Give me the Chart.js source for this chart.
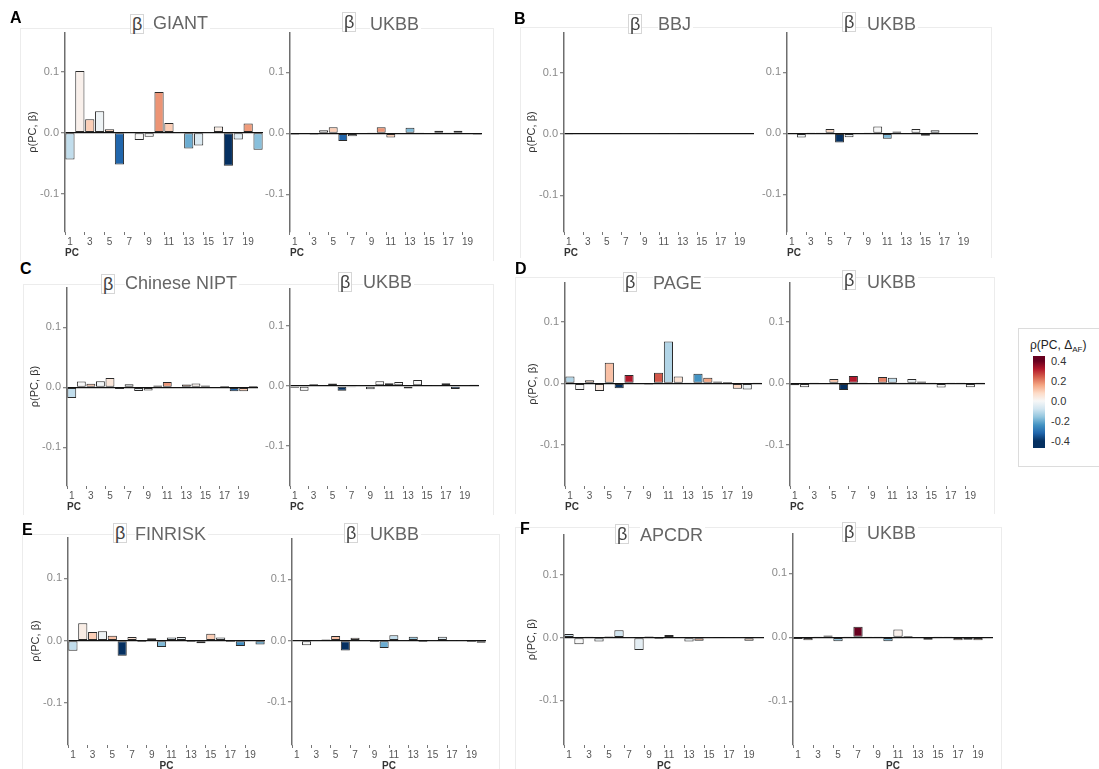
<!DOCTYPE html>
<html>
<head>
<meta charset="utf-8">
<script src="https://cdn.jsdelivr.net/npm/chart.js@4.4.0/dist/chart.umd.min.js"></script>
<style>
  body { margin: 0; width: 1099px; height: 769px; background: #fff; position: relative; overflow: hidden; font-family: "Liberation Sans", Arial, sans-serif; }
  .frame { position: absolute; border: 1px solid #ececec; border-bottom: none; }
  .letter { position: absolute; font-size: 16px; line-height: 16px; font-weight: bold; color: #000; }
  .beta { position: absolute; font-size: 18px; line-height: 18px; color: #444; border: 1px solid #d6d6d6; background: #fff; padding: 0 1px; }
  .word { position: absolute; font-size: 18px; line-height: 18px; color: #666; background: #fff; padding-right: 2px; }
  canvas { position: absolute; }
  #legend { position: absolute; left: 1018px; top: 328px; width: 80px; height: 137px; border: 1px solid #dcdcdc; border-right: none; }
  .lgTitle { position: absolute; left: 1030px; top: 338px; font-size: 12px; color: #222; white-space: nowrap; }
  .lgTitle sub { font-size: 8px; }
  .lgLab { position: absolute; left: 1051px; font-size: 11px; line-height: 12px; color: #333; }
  #cbar { position: absolute; left: 1033px; top: 356px; width: 12px; height: 92px; }
</style>
</head>
<body>
<div class="frame" style="left:20px;top:28px;width:472px;height:232px"></div>
<div class="frame" style="left:520px;top:27px;width:470px;height:230px"></div>
<div class="frame" style="left:23px;top:284px;width:469px;height:230px"></div>
<div class="frame" style="left:515px;top:277px;width:478px;height:236px"></div>
<div class="frame" style="left:22px;top:534px;width:476px;height:240px"></div>
<div class="frame" style="left:515px;top:527px;width:485px;height:245px"></div>

<div id="legend"></div>
<div class="lgTitle">ρ(PC, Δ<sub>AF</sub>)</div>
<div id="cbar"></div>

<script>
// x categories and tick labels
const pcLabels = ['1','2','3','4','5','6','7','8','9','10','11','12','13','14','15','16','17','18','19','20'];
const xTickShown = ['1','3','5','7','9','11','13','15','17','19'];
const yTicks = [-0.1, 0.0, 0.1];
const legendTicks = [0.4, 0.2, 0.0, -0.2, -0.4];

// rho(PC, beta) per PC, and rho(PC, dAF) used for fill
const betaGIANT = [-0.044, 0.101, 0.022, 0.035, 0.0055, -0.052, -0.001, -0.012, -0.0065, 0.0667, 0.016, 0.0005, -0.026, -0.021, 0.0005, 0.010, -0.054, -0.011, 0.015, -0.028];
const dafGIANT  = [-0.1, 0.02, 0.1, -0.02, 0.1, -0.32, 0, 0, 0, 0.18, 0.1, 0, -0.2, -0.06, 0, 0.03, -0.4, -0.05, 0.17, -0.17];

const betaUKBB_A = [-0.002, -0.001, -0.002, 0.005, 0.010, -0.0125, -0.005, -0.001, 0.0005, 0.010, -0.007, -0.001, 0.009, 0.0005, 0.001, 0.004, 0.0005, 0.004, -0.001, -0.002];
const dafUKBB_A  = [-0.1, 0, -0.02, 0, 0.1, -0.32, -0.03, 0, 0, 0.18, 0.1, 0, -0.18, 0, 0, 0.05, 0, -0.06, 0, -0.15];

const betaBBJ = [-0.001, 0, 0, 0, 0, 0, 0.0005, 0, 0, 0.0005, 0, 0.0005, 0, 0.0005, 0, 0, 0, 0.001, 0, 0];
const dafBBJ  = [0, 0, 0, 0, 0, 0, 0, 0, 0, 0, 0, 0, 0, 0, 0, 0, 0, 0, 0, 0];

const betaUKBB_B = [-0.001, -0.007, 0.0005, 0.0005, 0.007, -0.015, -0.0065, -0.001, 0.0005, 0.011, -0.009, 0.003, 0.001, 0.007, -0.004, 0.005, 0.001, 0.001, 0.001, 0];
const dafUKBB_B  = [0, -0.02, 0, 0, 0.08, -0.4, -0.03, 0, 0, 0, -0.18, -0.05, 0, 0, 0.06, -0.04, 0, 0, 0, 0];

const betaNIPT = [-0.018, 0.0095, 0.006, 0.010, 0.0155, -0.003, 0.005, -0.006, -0.0055, 0.003, 0.009, 0.001, 0.0045, 0.0065, 0.003, 0.001, 0.002, -0.0065, -0.0065, 0.002];
const dafNIPT  = [-0.1, 0, 0.12, -0.01, 0.05, -0.4, -0.03, -0.03, 0, -0.05, 0.18, 0, 0.12, 0.02, -0.1, 0, -0.1, -0.32, 0.1, -0.1];

const betaUKBB_C = [-0.003, -0.008, 0.003, 0.001, 0.004, -0.008, -0.002, 0.0005, -0.0055, 0.008, 0.0045, 0.0065, -0.004, 0.010, 0.001, 0.0005, 0.0045, -0.005, 0.0005, 0.002];
const dafUKBB_C  = [-0.1, 0, 0.05, 0, -0.03, -0.4, -0.1, 0, -0.03, 0, 0.18, 0, 0.1, 0, 0, 0, -0.12, -0.32, 0, -0.1];

const betaPAGE = [0.011, -0.011, 0.005, -0.0125, 0.0335, -0.008, 0.0135, -0.001, -0.002, 0.017, 0.068, 0.011, 0.0005, 0.0157, 0.009, 0.003, 0.002, -0.0087, -0.010, 0.0005];
const dafPAGE  = [-0.12, 0, 0.1, 0.04, 0.12, -0.4, 0.32, 0, 0, 0.25, -0.12, 0.06, 0, -0.24, 0.16, -0.05, 0, 0.08, -0.02, 0];

const betaUKBB_D = [-0.003, -0.0065, 0.0005, -0.001, 0.007, -0.011, 0.012, 0.0005, -0.001, 0.0103, 0.009, 0.0005, 0.007, 0.003, 0.0005, -0.007, 0.0005, 0.0005, -0.0065, 0.0005];
const dafUKBB_D  = [-0.12, 0, 0, 0, 0.12, -0.4, 0.32, 0, 0, 0.2, -0.1, 0, -0.03, -0.2, 0, 0, 0, 0, 0, 0];

const betaFINRISK = [-0.016, 0.028, 0.014, 0.015, 0.008, -0.024, 0.006, -0.002, 0.004, -0.010, 0.005, 0.006, -0.002, -0.004, 0.011, 0.005, -0.002, -0.0085, 0.001, -0.006];
const dafFINRISK  = [-0.1, 0.03, 0.1, -0.02, 0.12, -0.4, 0.06, 0, -0.04, -0.18, -0.08, -0.03, 0, 0, 0.1, -0.04, 0, -0.25, 0, -0.22];

const betaUKBB_E = [0.0005, -0.0075, 0.0005, 0.002, 0.0075, -0.016, 0.005, 0.0005, -0.002, -0.012, 0.0087, 0.0005, 0.0065, -0.002, 0.0005, 0.0065, 0.0005, 0.0005, -0.002, -0.0035];
const dafUKBB_E  = [0, 0, 0, 0.05, 0.12, -0.4, 0.05, 0, 0, -0.2, -0.1, 0, -0.15, 0, 0, -0.06, 0, 0, 0, -0.15];

const betaAPCDR = [0.006, -0.0105, 0.0015, -0.006, 0.002, 0.0117, 0.0005, -0.0197, 0.002, -0.002, 0.0043, -0.001, -0.006, -0.005, 0.0005, 0.001, 0.0005, 0.0005, -0.005, 0.0005];
const dafAPCDR  = [-0.08, 0, -0.1, -0.03, 0, -0.08, 0, -0.04, -0.03, 0, -0.03, 0, -0.03, 0.15, 0, 0, 0, 0, 0.08, 0];

const betaUKBB_F = [-0.0025, -0.0045, 0.0005, 0.003, -0.006, 0.0005, 0.0165, 0.0005, 0.0005, -0.006, 0.012, 0.002, 0.001, -0.004, 0.0005, 0.0005, -0.0045, -0.004, -0.0045, -0.001];
const dafUKBB_F  = [-0.12, 0.04, 0, 0, -0.15, 0, 0.4, 0, 0, -0.18, 0.02, 0, 0, 0.15, 0, 0, 0.08, -0.12, 0.08, 0];

// RdBu palette, -0.4 .. 0.4
const rdbu = ['#053061','#2166ac','#4393c3','#92c5de','#d1e5f0','#f7f7f7','#fddbc7','#f4a582','#d6604d','#b2182b','#67001f'];

function hex2rgb(h) { return [1,3,5].map(i => parseInt(h.substr(i, 2), 16)); }
function fillFor(v) {
  const t = Math.max(0, Math.min(1, (v + 0.4) / 0.8)) * 10;
  const i = Math.min(9, Math.floor(t)), f = t - i;
  const a = hex2rgb(rdbu[i]), b = hex2rgb(rdbu[i + 1]);
  return 'rgb(' + a.map((c, k) => Math.round(c + (b[k] - c) * f)).join(',') + ')';
}

// panel layout (pixels)
const panels = [
  { beta: betaGIANT,   daf: dafGIANT,   axisX: 65,  right: 263, top: 32,  bottom: 232, zero: 132.7, unit: 61,   yTitle: true,  pcAlign: 'start' },
  { beta: betaUKBB_A,  daf: dafUKBB_A,  axisX: 290, right: 482, top: 32,  bottom: 232, zero: 133.3, unit: 61,   yTitle: false, pcAlign: 'start' },
  { beta: betaBBJ,     daf: dafBBJ,     axisX: 564, right: 754, top: 32,  bottom: 232, zero: 134,   unit: 61.3, yTitle: true,  pcAlign: 'start' },
  { beta: betaUKBB_B,  daf: dafUKBB_B,  axisX: 787, right: 978, top: 32,  bottom: 232, zero: 133.3, unit: 61,   yTitle: false, pcAlign: 'start' },
  { beta: betaNIPT,    daf: dafNIPT,    axisX: 67,  right: 258, top: 287, bottom: 486, zero: 387.3, unit: 60,   yTitle: true,  pcAlign: 'start' },
  { beta: betaUKBB_C,  daf: dafUKBB_C,  axisX: 290, right: 479, top: 288, bottom: 486, zero: 386,   unit: 60,   yTitle: false, pcAlign: 'start' },
  { beta: betaPAGE,    daf: dafPAGE,    axisX: 565, right: 762, top: 282, bottom: 486, zero: 383.3, unit: 61.6, yTitle: true,  pcAlign: 'start' },
  { beta: betaUKBB_D,  daf: dafUKBB_D,  axisX: 790, right: 985, top: 282, bottom: 486, zero: 383.3, unit: 61.6, yTitle: false, pcAlign: 'start' },
  { beta: betaFINRISK, daf: dafFINRISK, axisX: 68,  right: 265, top: 537, bottom: 745, zero: 640.7, unit: 62.4, yTitle: true,  pcAlign: 'center' },
  { beta: betaUKBB_E,  daf: dafUKBB_E,  axisX: 292, right: 486, top: 538, bottom: 745, zero: 640.7, unit: 61.3, yTitle: false, pcAlign: 'center' },
  { beta: betaAPCDR,   daf: dafAPCDR,   axisX: 564, right: 764, top: 534, bottom: 745, zero: 637.7, unit: 62.7, yTitle: true,  pcAlign: 'center' },
  { beta: betaUKBB_F,  daf: dafUKBB_F,  axisX: 793, right: 993, top: 533, bottom: 745, zero: 637.3, unit: 64,   yTitle: false, pcAlign: 'center' }
];

const titles = [
  ['GIANT', 130, 153, 16, 14], ['UKBB', 342, 370, 17, 12], ['BBJ', 628, 658, 17, 14], ['UKBB', 842, 867, 17, 12],
  ['Chinese NIPT', 101, 125, 276, 274], ['UKBB', 338, 363, 275, 272], ['PAGE', 623, 653, 276, 272], ['UKBB', 842, 867, 275, 270],
  ['FINRISK', 113, 135, 527, 523], ['UKBB', 344, 370, 527, 523], ['APCDR', 615, 640, 528, 524], ['UKBB', 842, 867, 526, 522]
];
const letters = [['A', 10, 10], ['B', 514, 11], ['C', 20, 261], ['D', 515, 261], ['E', 22, 522], ['F', 520, 521]];

function addDiv(cls, html, left, top) {
  const d = document.createElement('div');
  d.className = cls; d.innerHTML = html;
  d.style.left = left + 'px'; d.style.top = top + 'px';
  document.body.appendChild(d);
  return d;
}

function makePanel(p) {
  const yw = p.yTitle ? 39 : 28, xh = 27;
  const w = Math.round(p.right - p.axisX + yw), h = Math.round(p.bottom - p.top + xh);
  const cv = document.createElement('canvas');
  cv.width = w; cv.height = h;
  cv.style.left = (p.axisX - yw) + 'px'; cv.style.top = p.top + 'px';
  cv.style.width = w + 'px'; cv.style.height = h + 'px';
  document.body.appendChild(cv);

  const yMax = (p.zero - p.top) / p.unit * 0.1;
  const yMin = -(p.bottom - p.zero) / p.unit * 0.1;

  new Chart(cv, {
    type: 'bar',
    data: {
      labels: pcLabels,
      datasets: [{
        data: p.beta,
        backgroundColor: p.daf.map(fillFor),
        borderColor: '#2a2a2a',
        borderWidth: 1,
        borderSkipped: false,
        barPercentage: 0.93,
        categoryPercentage: 1
      }]
    },
    options: {
      responsive: false,
      animation: false,
      events: [],
      layout: { padding: 0 },
      plugins: { legend: { display: false }, tooltip: { enabled: false } },
      scales: {
        x: {
          offset: true,
          border: { display: false },
          grid: { drawOnChartArea: false, tickLength: 3, tickColor: c => (c.index % 2 === 0 ? '#777' : 'rgba(0,0,0,0)') },
          ticks: {
            autoSkip: false, maxRotation: 0, padding: 1, color: '#555', font: { size: 10 },
            callback: function (v) { const l = this.getLabelForValue(v); return xTickShown.includes(l) ? l : ''; }
          },
          title: { display: true, text: 'PC', align: p.pcAlign, color: '#333', font: { size: 10, weight: 'bold' }, padding: { top: 0, bottom: 0 } },
          afterFit: s => { s.height = xh; s.paddingLeft = 0; s.paddingRight = 0; }
        },
        y: {
          min: yMin, max: yMax,
          afterBuildTicks: s => { s.ticks = yTicks.map(v => ({ value: v })); },
          border: { color: '#6e6e6e', width: 1.5 },
          grid: {
            tickLength: 4, tickColor: '#888',
            color: c => (c.tick && c.tick.value === 0 ? '#111' : 'rgba(0,0,0,0)'),
            lineWidth: 1.3
          },
          ticks: { padding: 2, color: '#8a8a8a', font: { size: 11 }, callback: v => v.toFixed(1) },
          title: { display: p.yTitle, text: 'ρ(PC, β)', color: '#333', font: { size: 11 }, padding: 0 },
          afterFit: s => { s.width = yw; s.paddingTop = 0; s.paddingBottom = 0; }
        }
      }
    }
  });
}

panels.forEach(makePanel);

titles.forEach(t => {
  addDiv('beta', 'β', t[1], t[4]);
  addDiv('word', t[0], t[2], t[3] - 2);
});
letters.forEach(l => addDiv('letter', l[0], l[1], l[2]));

// colour bar legend
const cbar = document.getElementById('cbar');
cbar.style.background = 'linear-gradient(to bottom, ' + rdbu.slice().reverse().map((c, i) => {
  const v = 0.4 - i * 0.08;
  return c + ' ' + ((5 + (0.4 - v) * 100) / 92 * 100).toFixed(1) + '%';
}).join(', ') + ')';
legendTicks.forEach(v => {
  const y = 361 + (0.4 - v) * 100;
  addDiv('lgLab', v.toFixed(1), 1051, y - 6);
});
</script>
</body>
</html>
